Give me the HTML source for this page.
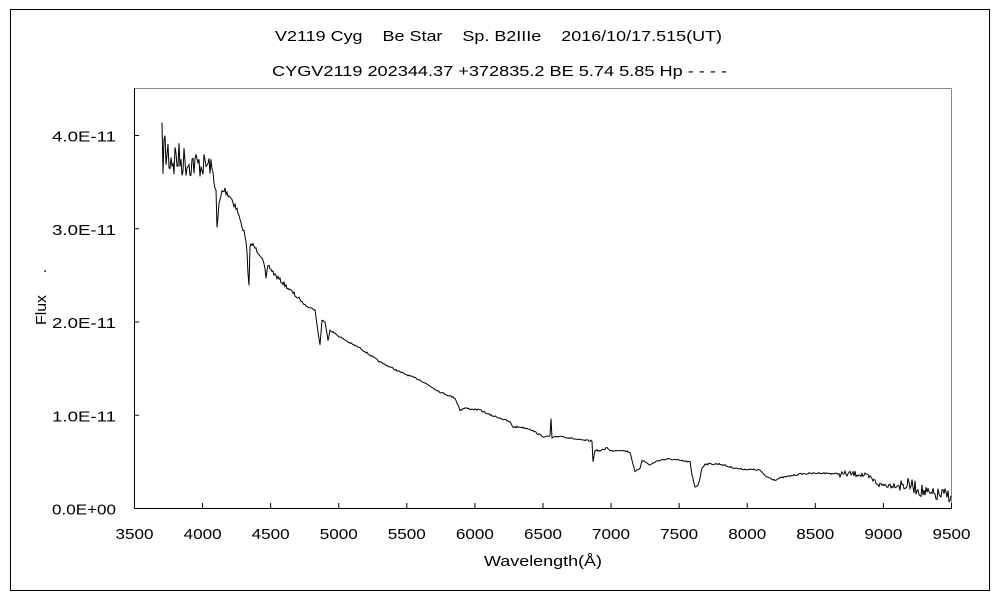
<!DOCTYPE html>
<html><head><meta charset="utf-8"><style>
body{margin:0;background:#fff;}
svg text{font-family:"Liberation Sans","Noto Sans CJK JP",sans-serif;font-size:15px;fill:#000;}
</style></head><body>
<svg id="s" width="1000" height="600" xmlns="http://www.w3.org/2000/svg">
<rect x="10.5" y="9.5" width="979" height="581" fill="none" stroke="#000" stroke-width="1"/>
<text x="275" y="41" textLength="447" lengthAdjust="spacingAndGlyphs" xml:space="preserve">V2119 Cyg    Be Star    Sp. B2IIIe    2016/10/17.515(UT)</text>
<text x="272" y="76" textLength="455" lengthAdjust="spacingAndGlyphs">CYGV2119 202344.37 +372835.2 BE 5.74 5.85 Hp - - - -</text>
<line x1="134.5" y1="88.5" x2="951.5" y2="88.5" stroke="#888"/>
<line x1="951.5" y1="88.5" x2="951.5" y2="508.5" stroke="#888"/>
<line x1="134.5" y1="88" x2="134.5" y2="508.5" stroke="#000"/>
<line x1="134.5" y1="508.5" x2="951.5" y2="508.5" stroke="#000"/>
<g id="ticks" stroke="#000"></g>
<g id="lbl"></g>
<text x="46" y="310" text-anchor="middle" transform="rotate(-90 46 310)" textLength="30" lengthAdjust="spacingAndGlyphs">Flux</text>
<text x="43" y="272" font-size="6">.</text>
<text x="484" y="566" textLength="118" lengthAdjust="spacingAndGlyphs">Wavelength(Å)</text>
<path id="sp" fill="none" stroke="#000" stroke-width="1"/>
</svg>
<script>
var ns="http://www.w3.org/2000/svg",t=document.getElementById('ticks'),l=document.getElementById('lbl');
function el(p,n,a,tx){var e=document.createElementNS(ns,n);for(var k in a)e.setAttribute(k,a[k]);if(tx)e.textContent=tx;p.appendChild(e);}
for(var i=0;i<=12;i++){var x=134.5+i*68.08;el(t,'line',{x1:x,y1:508.5,x2:x,y2:503});el(l,'text',{x:x-19,y:539,textLength:38,lengthAdjust:'spacingAndGlyphs'},String(3500+i*500));}
var yl=['0.0E+00','1.0E-11','2.0E-11','3.0E-11','4.0E-11'];
for(var j=0;j<5;j++){var y=508.5-j*93.25;el(t,'line',{x1:134.5,y1:y,x2:139,y2:y});el(l,'text',{x:52,y:y+6,textLength:64,lengthAdjust:'spacingAndGlyphs'},yl[j]);}
var P=[[162,150],[180,160],[200,165],[210,165],[213,175],[216,190],[217,230],[219,205],[222,192],[225,190],[230,196],[235,205],[238,213],[240,220],[245,235],[247,252],[248,275],[249,287],[250,245],[253,245],[258,252],[262,257],[265,270],[266,280],[268,265],[275,275],[280,280],[290,290],[300,300],[305,305],[315,310],[317,325],[320,345],[322,320],[325,322],[328,340],[330,330],[340,337],[350,343],[360,348],[370,355],[380,362],[390,367],[400,372],[420,380],[430,386],[440,392],[450,396],[455,398],[458,405],[460,410],[465,408],[470,409],[480,410],[490,415],[500,418],[510,422],[513,427],[520,427],[530,429],[535,432],[540,435],[545,437],[550,436],[551,419],[552,438],[560,436],[570,438],[580,440],[592,441],[593,462],[595,450],[600,451],[605,449],[607,447],[610,451],[620,450],[630,452],[632,460],[635,472],[640,468],[642,460],[650,465],[655,462],[660,460],[670,459],[690,462],[692,475],[695,487],[698,485],[700,478],[702,468],[705,464],[720,464],[730,467],[740,469],[760,470],[765,476],[770,478],[775,480],[780,478],[790,476],[800,474],[820,473],[840,474],[860,474],[870,478],[880,485],[900,485],[910,485],[920,490],[930,495],[951,495]];
var seed=7;function r(){seed=(seed*16807)%2147483647;return seed/2147483647-0.5;}
function yAt(x){for(var k=0;k<P.length-1;k++){if(x>=P[k][0]&&x<=P[k+1][0]){var f=(x-P[k][0])/((P[k+1][0]-P[k][0])||1);return P[k][1]+f*(P[k+1][1]-P[k][1]);}}return P[P.length-1][1];}
var d='';
for(var x=162;x<=951;x+=1){var y=yAt(x),a=0;
 if(x<215)a=45-(x-162)*0.5;else if(x<240)a=8;else if(x<300)a=4;else if(x<840)a=1.5;else if(x<900)a=6;else a=14;
 if(x<175)a=55;
 y+=r()*a;d+=(d?'L':'M')+x.toFixed(1)+' '+y.toFixed(1);}
document.getElementById('sp').setAttribute('d',d);
</script>
</body></html>
